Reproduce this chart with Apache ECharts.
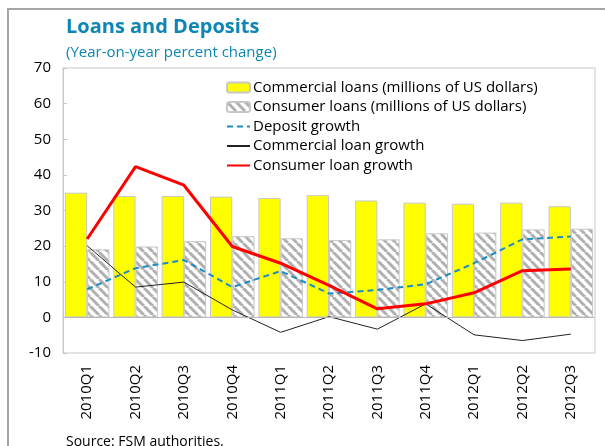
<!DOCTYPE html>
<html>
<head>
<meta charset="utf-8">
<script src="https://cdn.jsdelivr.net/npm/echarts@6/dist/echarts.min.js"></script>
<style>
  html, body { margin: 0; padding: 0; background: #fff; }
</style>
</head>
<body>
<div id="main" style="width: 605px; height: 446px"></div>
<script>
var quarters = ['2010Q1', '2010Q2', '2010Q3', '2010Q4', '2011Q1', '2011Q2', '2011Q3', '2011Q4', '2012Q1', '2012Q2', '2012Q3']
var commercialLoans = [35.0, 34.1, 34.1, 33.9, 33.5, 34.3, 32.8, 32.2, 31.9, 32.2, 31.2]
var consumerLoans = [19.1, 19.9, 21.4, 22.8, 22.2, 21.7, 21.9, 23.6, 23.8, 24.7, 24.9]
var depositGrowth = [7.9, 13.8, 16.1, 8.5, 13.0, 6.7, 7.7, 9.3, 15.2, 21.9, 22.7]
var commercialGrowth = [20.1, 8.5, 9.9, 2.1, -4.2, 0.2, -3.3, 3.8, -4.9, -6.5, -4.7]
var consumerGrowth = [22.0, 42.3, 37.1, 19.9, 15.2, 9.0, 2.4, 3.8, 6.9, 13.1, 13.6]
var yTicks = { min: -10, max: 70, step: 10 }

// diagonal hatch for the consumer loan bars
function hatch() {
  var s = 9
  var c = document.createElement('canvas')
  c.width = s
  c.height = s
  var ctx = c.getContext('2d')
  ctx.fillStyle = '#fff'
  ctx.fillRect(0, 0, s, s)
  ctx.strokeStyle = '#b0b0b0'
  ctx.lineWidth = 3
  for (var k = -1; k <= 1; k++) {
    ctx.beginPath()
    ctx.moveTo(k * s, 0)
    ctx.lineTo(k * s + s, s)
    ctx.stroke()
  }
  return c
}

var font = 'Open Sans'
var blue = '#0e86b4'
var noDot = { opacity: 0 } // line legend entries: line only, no marker
const myChart = echarts.init(document.getElementById('main'))
var option = {
  animation: false,
  textStyle: { fontFamily: font },
  graphic: [
    {
      type: 'rect',
      shape: { x: 8, y: 9, width: 700, height: 600 },
      style: { fill: 'none', stroke: '#a6a6a6', lineWidth: 2 },
      silent: true
    }
  ],
  title: [
    {
      text: 'Loans and Deposits',
      left: 61,
      top: 12,
      textStyle: { fontFamily: font, fontSize: 20, fontWeight: 'bold', color: blue }
    },
    {
      text: '(Year-on-year percent change)',
      left: 61,
      top: 40,
      textStyle: { fontFamily: font, fontSize: 15, fontWeight: 'normal', color: blue }
    },
    {
      text: 'Source: FSM authorities.',
      left: 61,
      top: 430,
      textStyle: { fontFamily: font, fontSize: 14, fontWeight: 'normal', color: '#000' }
    }
  ],
  legend: {
    orient: 'vertical',
    left: 221,
    top: 75,
    itemWidth: 23,
    itemHeight: 10,
    itemGap: 4.5,
    textStyle: { fontFamily: font, fontSize: 15, color: '#000', padding: [0, 0, 0, -2] },
    data: [
      { name: 'Commercial loans (millions of US dollars)' },
      { name: 'Consumer loans (millions of US dollars)' },
      { name: 'Deposit growth', itemStyle: noDot },
      { name: 'Commercial loan growth', itemStyle: noDot },
      { name: 'Consumer loan growth', itemStyle: noDot }
    ]
  },
  grid: {
    left: 63,
    top: 68,
    right: 10,
    bottom: 93,
    show: true,
    borderColor: '#c8c8c8',
    borderWidth: 1
  },
  xAxis: {
    type: 'category',
    data: quarters,
    axisLine: { onZero: false, show: false },
    axisTick: { show: false },
    axisLabel: { rotate: 90, fontFamily: font, fontSize: 15, color: '#000', margin: 12 }
  },
  yAxis: {
    type: 'value',
    min: yTicks.min,
    max: yTicks.max,
    interval: yTicks.step,
    axisLine: { show: true, lineStyle: { color: '#c8c8c8' } },
    axisTick: { show: true, inside: true, length: 4, lineStyle: { color: '#c8c8c8' } },
    splitLine: { show: false },
    axisLabel: { fontFamily: font, fontSize: 15, color: '#000', margin: 12 }
  },
  series: [
    {
      name: 'Commercial loans (millions of US dollars)',
      type: 'bar',
      data: commercialLoans,
      barGap: '0%',
      barCategoryGap: '8%',
      itemStyle: { color: '#ffff00', borderColor: '#c8c8c8', borderWidth: 1 },
      markLine: {
        silent: true,
        symbol: 'none',
        label: { show: false },
        lineStyle: { color: '#b8b8b8', type: 'solid', width: 1 },
        data: [{ yAxis: 0 }]
      }
    },
    {
      name: 'Consumer loans (millions of US dollars)',
      type: 'bar',
      data: consumerLoans,
      barGap: '0%',
      barCategoryGap: '8%',
      itemStyle: { color: { image: hatch(), repeat: 'repeat' }, borderColor: '#c8c8c8', borderWidth: 1 }
    },
    {
      name: 'Deposit growth',
      type: 'line',
      data: depositGrowth,
      symbol: 'none',
      itemStyle: { color: '#1c8cc4' },
      lineStyle: { color: '#1c8cc4', width: 2, type: [6, 4] }
    },
    {
      name: 'Commercial loan growth',
      type: 'line',
      data: commercialGrowth,
      symbol: 'none',
      itemStyle: { color: '#222' },
      lineStyle: { color: '#222', width: 1 }
    },
    {
      name: 'Consumer loan growth',
      type: 'line',
      data: consumerGrowth,
      symbol: 'none',
      itemStyle: { color: '#ff0000' },
      lineStyle: { color: '#ff0000', width: 3 }
    }
  ]
}
myChart.setOption(option)
</script>
</body>
</html>
